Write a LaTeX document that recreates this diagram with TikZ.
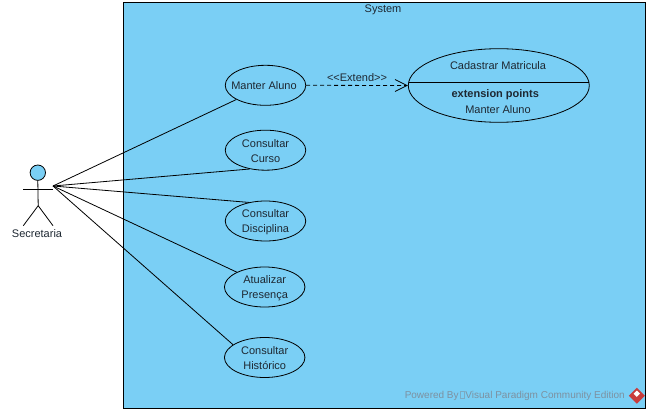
\documentclass[tikz,border=0pt]{standalone}
\usepackage{fontspec}
\setmainfont{Liberation Sans}
\usetikzlibrary{arrows.meta,shapes.geometric}
\definecolor{sysblue}{RGB}{122,207,245}
\definecolor{wm}{RGB}{125,145,160}
\definecolor{txt}{RGB}{30,40,50}
\definecolor{logored}{RGB}{200,60,60}
\newcommand{\missingglyph}{\hspace{1pt}\textcolor{wm!60!sysblue}{\setlength{\fboxsep}{0pt}\setlength{\fboxrule}{0.4pt}\fbox{\rule{0pt}{7pt}\hspace{4pt}}}\hspace{1pt}}
\tikzset{
  uc/.style={draw=black,ellipse,line width=0.8pt,minimum width=80.5pt,minimum height=40pt,inner sep=-9pt,align=center,font=\fontsize{11}{15}\selectfont,text=txt},
  lbl/.style={font=\fontsize{11}{12}\selectfont,text=txt,inner sep=0pt},
  assoc/.style={draw=black,line width=0.8pt},
  ext/.style={draw=black,line width=0.8pt,dash pattern=on 4pt off 3pt,-{Straight Barb[length=12pt,width=12pt,line width=0.8pt]}}
}
\begin{document}
\begin{tikzpicture}[x=1pt,y=-1pt]
\useasboundingbox (0,0) rectangle (649,412);
\fill[white] (0,0) rectangle (649,412);
\node[draw=black,fill=sysblue,line width=0.8pt,minimum width=522pt,minimum height=405pt,inner sep=0pt,anchor=north west] (system) at (122.5,2.5) {};
\node[lbl] (systitle) at (383,10) {System};
% actor
\node[draw=black,fill=sysblue,circle,line width=0.8pt,minimum size=15.4pt,inner sep=0pt] (head) at (37.8,172.7) {};
\coordinate (hand) at (53,189);
\coordinate (lhand) at (23.3,189);
\coordinate (hip) at (38.2,205.7);
\coordinate (lfoot) at (23.3,225.7);
\coordinate (rfoot) at (53,225.7);
\coordinate (conv) at (53,186);
\draw[assoc] (head.south) -- (hip);
\draw[assoc] (lhand) -- (hand);
\draw[assoc] (lfoot) -- (hip) -- (rfoot);
\node[lbl] (actor) at (37,233.5) {Secretaria};
% use cases
\node[uc] (a) at (265.5,85.3) {\hspace{-3pt}Manter Aluno};
\node[uc] (b) at (265.5,150.2) {\rule{0pt}{10pt}Consultar\\Curso};
\node[uc] (c) at (265.5,221) {\rule{0pt}{10pt}Consultar\\Disciplina};
\node[uc] (d) at (264.7,287) {\rule{0pt}{10pt}Atualizar\\Presença};
\node[uc] (e) at (264.7,357.5) {\rule{0pt}{10pt}Consultar\\Histórico};
\node[draw=black,ellipse,line width=0.8pt,minimum width=181pt,minimum height=73.6pt,inner sep=0pt] (f) at (498.8,85.5) {};
\coordinate (fl) at (408.6,82.3);
\coordinate (fr) at (589,82.3);
\draw[assoc] (fl) -- (fr);
\node[lbl] (f1) at (498,65.3) {Cadastrar Matricula};
\node[lbl,font=\fontsize{11}{12}\selectfont\bfseries] (f2) at (495.3,94.8) {extension points};
\node[lbl] (f3) at (498,109.8) {Manter Aluno};
% connectors
\draw[assoc] (conv) -- (a.206.6);
\draw[assoc] (conv) -- (b.230);
\draw[assoc] (conv) -- (c.132);
\draw[assoc] (conv) -- (d.152);
\draw[assoc] (conv) -- (e.158);
\draw[ext] (a.east) -- (f.west);
\node[lbl] (extl) at (357,77.5) {<{}<Extend>{}>};
% watermark
\node[lbl,font=\fontsize{10}{12}\selectfont,text=wm,anchor=east] (wmk) at (625,395.7) {Powered By\missingglyph Visual Paradigm Community Edition};
\fill[logored] (636.8,387.7) -- (644.8,395.7) -- (636.8,403.7) -- (628.8,395.7) -- cycle;
\fill[white] (636.8,390.5) -- (640,393.7) -- (636.8,396.9) -- (633.6,393.7) -- cycle;
\end{tikzpicture}
\end{document}
